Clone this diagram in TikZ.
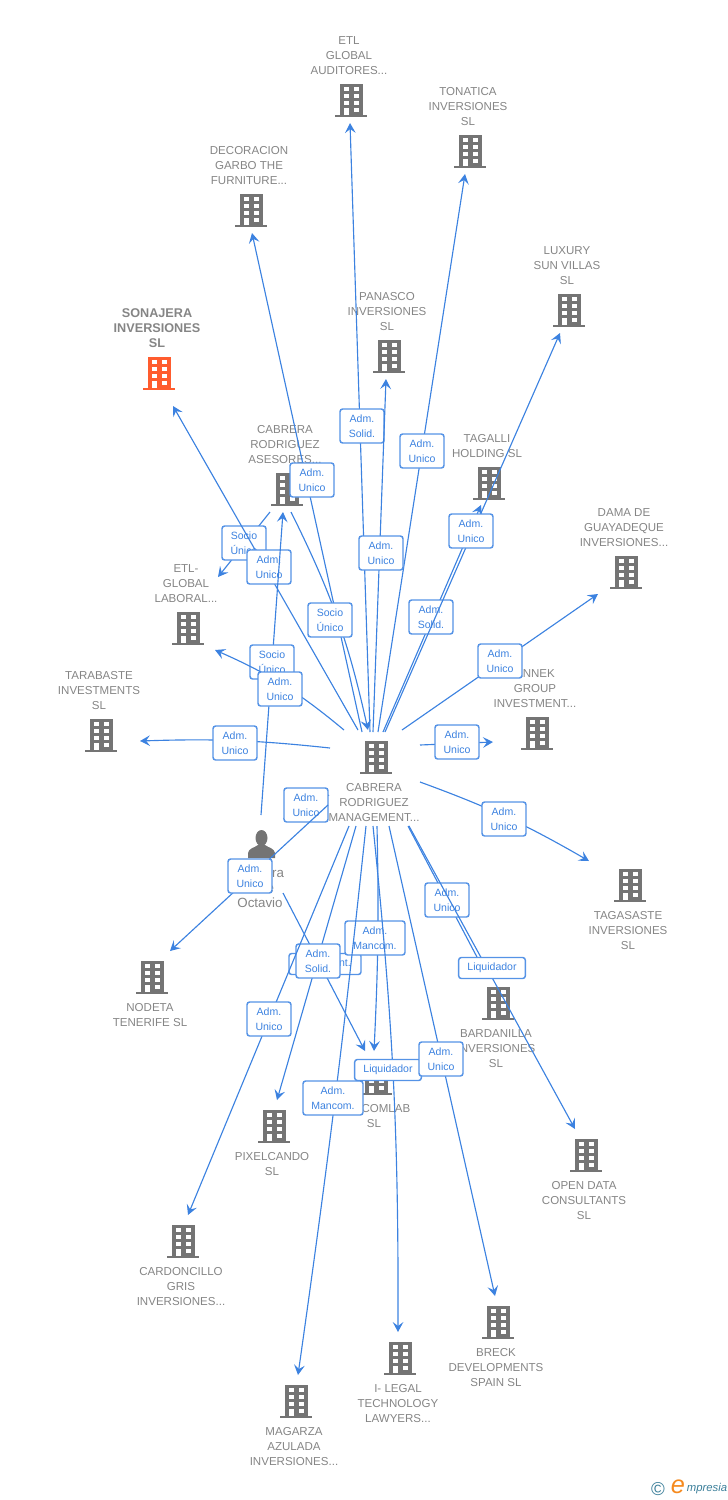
\documentclass[tikz,border=0pt]{standalone}
\usepackage{fontspec}
\setmainfont{Liberation Sans}
\usetikzlibrary{arrows.meta}
\usetikzlibrary{calc}
\usetikzlibrary{positioning}

\definecolor{linkblue}{HTML}{3C82E0}
\definecolor{tagblue}{HTML}{5593E6}
\definecolor{iconGray}{HTML}{747474}
\definecolor{textGray}{HTML}{858585}
\definecolor{mainOrange}{HTML}{FF5C2E}
\definecolor{logoTeal}{HTML}{3C7F9A}
\definecolor{logoOrange}{HTML}{F58A1F}

\tikzset{
  building/.pic={
    \fill [pic actions] (-11.5,-16.5) rectangle (11.5,14.5);
    \fill [pic actions] (-16,14.5) rectangle (16,16.5);
    \foreach \wy in {-13,-6.5,0.5} {
      \fill [white] (-7.5,\wy) rectangle (-2.5,{\wy+4});
      \fill [white] (2.5,\wy) rectangle (7.5,{\wy+4});
    }
    \fill [white] (-7.5,7.5) rectangle (-2.5,14.5);
    \fill [white] (2.5,7.5) rectangle (7.5,12);
  },
  spot/.style={minimum width=24pt, minimum height=25.5pt, inner sep=0pt},
  caption/.style={text=textGray, align=center, inner sep=0pt,
    font=\fontsize{8.65pt}{11.25pt}\selectfont},
  link/.style={-{Stealth[length=7.5pt, width=8pt, inset=3pt]}, linkblue, line width=0.85pt},
  tag/.style={draw=tagblue, fill=white, text=linkblue, rounded corners=2pt, line width=1.1pt,
    align=center, inner sep=0pt, minimum width=33pt, minimum height=25.5pt,
    font=\fontsize{7.9pt}{11.25pt}\selectfont},
}

\begin{document}
\begin{tikzpicture}[x=0.75pt, y=-0.75pt]
  \useasboundingbox (0,0) rectangle (728,1500);

  % companies above their icon
  \foreach \name/\x/\y/\txt in {
      etlaud/351/100/{ETL\\GLOBAL\\AUDITORES...},
      tonatica/470/151/{TONATICA\\INVERSIONES\\SL},
      decoracion/251/210/{DECORACION\\GARBO THE\\FURNITURE...},
      luxury/569/310/{LUXURY\\SUN VILLAS\\SL},
      panasco/389/356/{PANASCO\\INVERSIONES\\SL},
      asesores/287/489/{CABRERA\\RODRIGUEZ\\ASESORES...},
      tagalli/489/483/{TAGALLI\\HOLDING  SL},
      dama/626/572/{DAMA DE\\GUAYADEQUE\\INVERSIONES...},
      etllab/188/628/{ETL-\\GLOBAL\\LABORAL...},
      annek/537/733/{ANNEK\\GROUP\\INVESTMENT...},
      tarabaste/101/735/{TARABASTE\\INVESTMENTS\\SL}} {
    \node [spot] (\name) at (\x,\y) {};
    \pic [fill=iconGray] at (\name) {building};
    \node [caption, above=6pt of \name, xshift=-1.5pt] (\name txt) {\txt};
  }

  % companies below their icon
  \foreach \name/\x/\y/\txt in {
      hub/376/757/{CABRERA\\RODRIGUEZ\\MANAGEMENT...},
      tagasaste/630/885/{TAGASASTE\\INVERSIONES\\SL},
      nodeta/152/977/{NODETA\\TENERIFE  SL},
      bardanilla/498/1003/{BARDANILLA\\INVERSIONES\\SL},
      comlab/376/1078/{ADVCOMLAB\\SL},
      pixelcando/274/1126/{PIXELCANDO\\SL},
      opendata/586/1155/{OPEN DATA\\CONSULTANTS\\SL},
      cardoncillo/183/1241/{CARDONCILLO\\GRIS\\INVERSIONES...},
      breck/498/1322/{BRECK\\DEVELOPMENTS\\SPAIN  SL},
      ilegal/400/1358/{I- LEGAL\\TECHNOLOGY\\LAWYERS...},
      magarza/296/1401/{MAGARZA\\AZULADA\\INVERSIONES...}} {
    \node [spot] (\name) at (\x,\y) {};
    \pic [fill=iconGray] at (\name) {building};
    \node [caption, below=6.75pt of \name, xshift=-1.5pt] (\name txt) {\txt};
  }

  % the highlighted company
  \node [spot] (sonajera) at (159,373) {};
  \pic [fill=mainOrange] at (sonajera) {building};
  \node [caption, above=6pt of sonajera, xshift=-1.5pt, font=\fontsize{9.5pt}{11.25pt}\selectfont\bfseries]
    (sonajera txt) {SONAJERA\\INVERSIONES\\SL};

  % the person
  \node [spot] (person) at (261,846) {};
  \fill [iconGray] (261.5,838) ellipse (6 and 8);
  \fill [iconGray] (248,858) -- (248,853) .. controls (249,848) and (254,848) .. (258,845)
    -- (265,845) .. controls (269,848) and (274,848) .. (275,853) -- (275,858) -- cycle;
  \node [caption, font=\fontsize{10pt}{11.25pt}\selectfont, below=3.25pt of person, xshift=-0.75pt] (person txt)
    {Cabrera\\Jose\\Octavio};

  % links: from, its offset, to, its offset, bend, tag place, tag text, tag size
  \foreach \src/\sx/\sy/\dst/\ex/\ey/\bnd/\lx/\ly/\txt/\bw/\bh [count=\i] in {
      hub/-6/-25/etlaud/-1/23/0/362/426/{Adm.\\Solid.}/33/25.5,
      hub/2/-25/tonatica/-5/23/0/422/451/{Adm.\\Unico}/33/25.5,
      hub/-14/-25/decoracion/1/23/0/312/480/{Adm.\\Unico}/33/25.5,
      hub/-3/-25/panasco/-3/23/0/381/553/{Adm.\\Unico}/33/25.5,
      hub/7/-25/tagalli/-8/22/0/431/617/{Adm.\\Solid.}/33/25.5,
      hub/9/-25/luxury/-9/23/0/471/531/{Adm.\\Unico}/33/25.5,
      asesores/-17/23/etllab/30/-51/0/244/543/{Socio\\Único}/33/25.5,
      hub/-18/-27/sonajera/14/33/0/269/567/{Adm.\\Unico}/33/25.5,
      asesores/4/23/hub/-8/-27/7/330/620/{Socio\\Único}/33/25.5,
      person/0/-31/asesores/-4/23/0/272/662/{Socio\\Único}/33/25.5,
      hub/-32/-27/etllab/27/22/-8/280/689/{Adm.\\Unico}/33/25.5,
      hub/-46/-9/tarabaste/39/6/-4/235/743/{Adm.\\Unico}/33/25.5,
      hub/44/-12/annek/-44/9/0/457/742/{Adm.\\Unico}/33/25.5,
      hub/26/-27/dama/-28/22/0/500/661/{Adm.\\Unico}/33/25.5,
      hub/44/25/tagasaste/-41/-24/5/504/819/{Adm.\\Unico}/33/25.5,
      hub/-47/38/person/22/-27/0/306/805/{Adm.\\Unico}/33/25.5,
      hub/-48/48/nodeta/18/-26/0/250/876/{Adm.\\Unico}/33/25.5,
      person/22/47/comlab/-11/-27/0/325/964/{Represent.}/54/15.75,
      hub/-20/69/pixelcando/3/-26/0/318/961/{Adm.\\Solid.}/33/25.5,
      hub/-27/69/cardoncillo/5/-26/0/269/1019/{Adm.\\Unico}/33/25.5,
      hub/1/69/comlab/-2/-27/2/375/938/{Adm.\\Mancom.}/45/25.5,
      hub/-10/69/magarza/2/-26/1/333/1098/{Adm.\\Mancom.}/45/25.5,
      hub/-3/69/ilegal/-2/-26/3/388/1070/{Liquidador}/50/15.75,
      hub/13/69/breck/-3/-26/0/441/1059/{Adm.\\Unico}/33/25.5,
      hub/32/69/bardanilla/-10/-25/0/447/900/{Adm.\\Unico}/33/25.5,
      hub/33/69/opendata/-11/-26/0/492/968/{Liquidador}/50/15.75} {
    \draw [link] ($(\src)+(\sx,\sy)$) to [bend left=\bnd] ($(\dst)+(\ex,\ey)$);
    \node [tag, minimum width=\bw pt, minimum height=\bh pt] (tag\i) at (\lx,\ly) {\txt};
  }

  % footer mark
  \node [inner sep=0pt, text=logoTeal, font=\fontsize{14pt}{14pt}\selectfont] (copy) at (658,1489) {©};
  \node [inner sep=0pt, text=logoOrange, font=\fontsize{19pt}{19pt}\selectfont\itshape] (logoe) at (678,1487) {e};
  \node [inner sep=0pt, text=logoTeal, font=\fontsize{8.5pt}{8.5pt}\selectfont\itshape,
    right=1pt of logoe, yshift=-1.5pt] (logotxt) {mpresia};
\end{tikzpicture}
\end{document}
